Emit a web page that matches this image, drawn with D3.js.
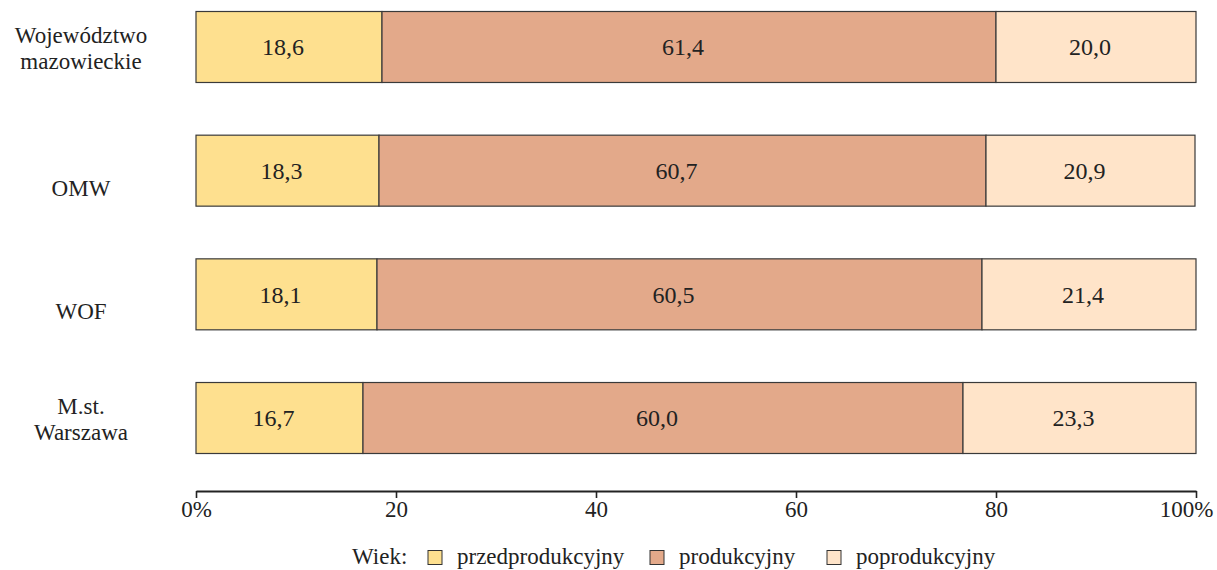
<!DOCTYPE html>
<html>
<head>
<meta charset="utf-8">
<script src="https://cdn.jsdelivr.net/npm/d3@7"></script>
<style>
  body { margin: 0; background: #fff; }
</style>
</head>
<body>
<div id="chart"></div>
<script>
const regions = [["Województwo", "mazowieckie"], ["OMW"], ["WOF"], ["M.st.", "Warszawa"]];
const groups = ["przedprodukcyjny", "produkcyjny", "poprodukcyjny"];
const przed = [18.6, 18.3, 18.1, 16.7];
const prod = [61.4, 60.7, 60.5, 60.0];
const po = [20.0, 20.9, 21.4, 23.3];
const ticks = [0, 20, 40, 60, 80, 100];
const colors = ["#fee08f", "#e3a98a", "#ffe4c9"];
const serif = "'Liberation Serif', 'DejaVu Serif', serif";

const svg = d3.select("#chart")
    .append("svg")
    .attr("width", 1217)
    .attr("height", 570)
    .attr("font-family", serif);

const keys = regions.map(r => r.join(" "));
const rows = keys.map((k, i) => ({ key: k, przedprodukcyjny: przed[i], produkcyjny: prod[i], poprodukcyjny: po[i] }));
const stacked = d3.stack().keys(groups)(rows);

const x = d3.scaleLinear().domain([0, 100]).range([196, 1196]);
const y = d3.scaleBand().domain(keys).range([11.5, 453.5]).paddingInner(0.426).paddingOuter(0);
const color = d3.scaleOrdinal().domain(groups).range(colors);

// bars
const layer = svg.append("g")
    .selectAll("g")
    .data(stacked)
    .join("g")
    .attr("fill", d => color(d.key));

layer.selectAll("rect")
    .data(d => d)
    .join("rect")
    .attr("x", d => x(d[0]))
    .attr("y", d => y(d.data.key))
    .attr("width", d => x(d[1]) - x(d[0]))
    .attr("height", y.bandwidth())
    .attr("stroke", "#3a3a3a")
    .attr("stroke-width", 1.2);

// value labels
layer.selectAll("text")
    .data(d => d.map(v => ({ v, val: v[1] - v[0] })))
    .join("text")
    .attr("x", d => (x(d.v[0]) + x(d.v[1])) / 2 - 6)
    .attr("y", d => y(d.v.data.key) + y.bandwidth() / 2)
    .attr("dy", "0.35em")
    .attr("text-anchor", "middle")
    .attr("font-size", 24)
    .attr("fill", "#222")
    .text(d => d3.format(".1f")(d.val).replace(".", ","));

// category labels
const cat = svg.append("g")
    .selectAll("text")
    .data(regions)
    .join("text")
    .attr("text-anchor", "middle")
    .attr("font-size", 23)
    .attr("fill", "#222");

cat.each(function(lines, i) {
    const cy = y(keys[i]) + y.bandwidth() / 2;
    const t = d3.select(this);
    const start = lines.length === 1 ? cy + 25 : cy - 4;
    lines.forEach((l, j) => {
        t.append("tspan")
            .attr("x", 81)
            .attr("y", start + j * 26)
            .text(l);
    });
});

// axis
const axis = svg.append("g")
    .attr("transform", "translate(0,491)")
    .call(d3.axisBottom(x)
        .tickValues(ticks)
        .tickSize(7)
        .tickSizeOuter(0)
        .tickPadding(3)
        .tickFormat(d => (d === 0 || d === 100) ? d + "%" : d));

axis.attr("font-family", serif).attr("font-size", 23);
axis.select(".domain").attr("stroke", "#222").attr("stroke-width", 2.2);
axis.selectAll(".tick line").attr("stroke", "#222").attr("stroke-width", 1.6);
axis.selectAll(".tick text").attr("fill", "#222");
// last label sits a bit left so it stays inside the frame
axis.selectAll(".tick text").filter(d => d === 100)
    .attr("text-anchor", "end")
    .attr("x", 17);

// legend
const legend = svg.append("g").attr("font-size", 23).attr("fill", "#222");
legend.append("text").attr("x", 352).attr("y", 564).text("Wiek:");
const legendX = [428, 650, 827];
groups.forEach((g, i) => {
    legend.append("rect")
        .attr("x", legendX[i])
        .attr("y", 550.5)
        .attr("width", 14)
        .attr("height", 14)
        .attr("fill", color(g))
        .attr("stroke", "#333")
        .attr("stroke-width", 1);
    legend.append("text")
        .attr("x", legendX[i] + 29)
        .attr("y", 564)
        .text(g);
});

svg.selectAll("text").style("font-family", serif);
</script>
</body>
</html>
